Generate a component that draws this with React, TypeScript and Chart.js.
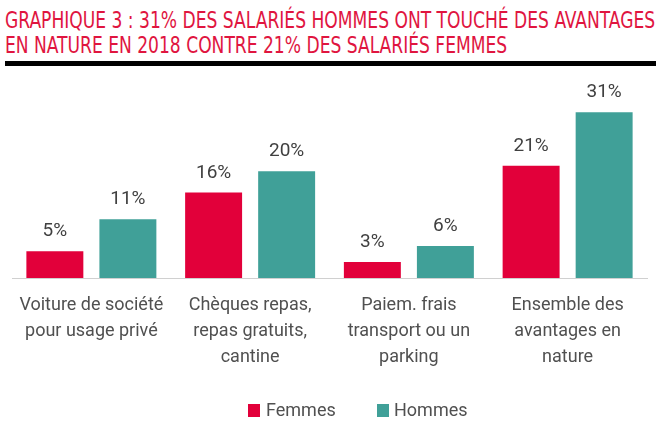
import React, { useEffect, useLayoutEffect, useRef, useState } from 'react';
import { Chart, registerables } from 'chart.js';

Chart.register(...registerables);

const TITLE_LINES = [
  'GRAPHIQUE 3 : 31% DES SALARIÉS HOMMES ONT TOUCHÉ DES AVANTAGES',
  'EN NATURE EN 2018 CONTRE 21% DES SALARIÉS FEMMES',
];
const CATEGORIES = [
  ['Voiture de société', 'pour usage privé'],
  ['Chèques repas,', 'repas gratuits,', 'cantine'],
  ['Paiem. frais', 'transport ou un', 'parking'],
  ['Ensemble des', 'avantages en', 'nature'],
];
const SERIES_NAMES = ['Femmes', 'Hommes'];
const FEMMES = [5, 16, 3, 21];
const HOMMES = [11, 20, 6, 31];
const COLORS = ['#e2003a', '#40a098'];
const Y_MAX = 35;

const valueLabels = {
  id: 'valueLabels',
  afterDatasetsDraw(chart: any) {
    const ctx = chart.ctx;
    ctx.save();
    ctx.font = '19px Roboto';
    ctx.fillStyle = '#404040';
    ctx.textAlign = 'center';
    ctx.textBaseline = 'alphabetic';
    chart.data.datasets.forEach((ds: any, i: number) => {
      const meta = chart.getDatasetMeta(i);
      meta.data.forEach((bar: any, j: number) => {
        ctx.fillText(ds.data[j] + '%', bar.x, bar.y - 15);
      });
    });
    ctx.restore();
  },
};

export default function App() {
  const canvasRef = useRef<HTMLCanvasElement | null>(null);
  const line1Ref = useRef<HTMLSpanElement | null>(null);
  const [scale, setScale] = useState(1);

  useLayoutEffect(() => {
    if (line1Ref.current) {
      const w = line1Ref.current.scrollWidth;
      if (w > 0) setScale(650 / w);
    }
  }, []);

  useEffect(() => {
    if (!canvasRef.current) return;
    const chart = new Chart(canvasRef.current, {
      type: 'bar',
      data: {
        labels: CATEGORIES,
        datasets: [
          {
            label: SERIES_NAMES[0],
            data: FEMMES,
            backgroundColor: COLORS[0],
            categoryPercentage: 0.92,
            barPercentage: 0.78,
          },
          {
            label: SERIES_NAMES[1],
            data: HOMMES,
            backgroundColor: COLORS[1],
            categoryPercentage: 0.92,
            barPercentage: 0.78,
          },
        ],
      },
      options: {
        animation: false,
        responsive: false,
        maintainAspectRatio: false,
        layout: { padding: { top: 21, left: 12, right: 13, bottom: 54 } },
        plugins: {
          legend: { display: false },
          tooltip: { enabled: false },
        },
        scales: {
          x: {
            grid: { display: false, drawTicks: false },
            border: { display: true, color: '#d0d0d0', width: 1 },
            ticks: {
              padding: 14,
              autoSkip: false,
              maxRotation: 0,
              color: '#505050',
              font: { family: 'Roboto', size: 18, lineHeight: 26 / 18 },
            },
          },
          y: {
            display: false,
            min: 0,
            max: Y_MAX,
          },
        },
      },
      plugins: [valueLabels],
    });
    return () => chart.destroy();
  }, []);

  const legendText: React.CSSProperties = {
    position: 'absolute',
    top: 401,
    fontFamily: 'Roboto',
    fontSize: 18,
    lineHeight: '18px',
    color: '#505050',
    whiteSpace: 'nowrap',
  };

  return (
    <div
      style={{
        position: 'fixed',
        top: 0,
        left: 0,
        width: 660,
        height: 438,
        background: '#fff',
        overflow: 'hidden',
      }}
    >
      <div
        style={{
          position: 'absolute',
          left: 5,
          top: 8,
          fontFamily: '"Liberation Sans Narrow", "DejaVu Sans Condensed", sans-serif',
          fontSize: 23,
          lineHeight: '25px',
          color: '#e0153f',
          transform: `scaleX(${scale})`,
          transformOrigin: 'left top',
          whiteSpace: 'nowrap',
        }}
      >
        <span ref={line1Ref} style={{ display: 'inline-block' }}>
          {TITLE_LINES[0]}
        </span>
        <br />
        <span style={{ display: 'inline-block' }}>{TITLE_LINES[1]}</span>
      </div>
      <div
        style={{
          position: 'absolute',
          left: 5,
          top: 61,
          width: 651,
          height: 5,
          background: '#000',
        }}
      />
      <div style={{ position: 'absolute', left: 0, top: 70, width: 660, height: 368 }}>
        <canvas ref={canvasRef} width={660} height={368} style={{ width: 660, height: 368, display: 'block' }} />
      </div>
      <div style={{ position: 'absolute', left: 248, top: 404, width: 12, height: 13, background: COLORS[0] }} />
      <div style={{ ...legendText, left: 266 }}>{SERIES_NAMES[0]}</div>
      <div style={{ position: 'absolute', left: 377, top: 404, width: 12, height: 13, background: COLORS[1] }} />
      <div style={{ ...legendText, left: 394 }}>{SERIES_NAMES[1]}</div>
    </div>
  );
}
